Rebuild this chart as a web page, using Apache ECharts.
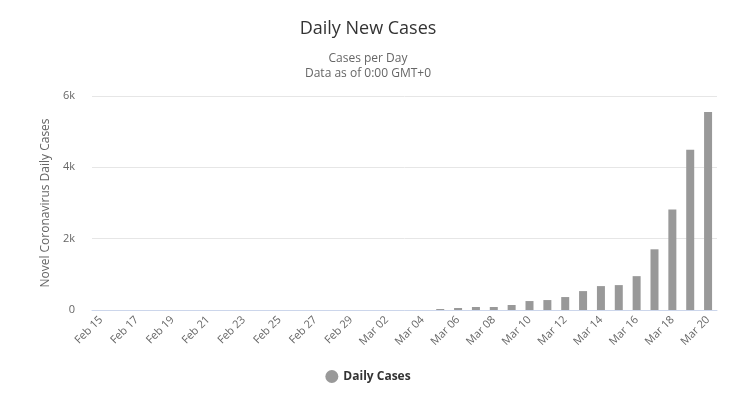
<!DOCTYPE html>
<html>
<head>
<meta charset="utf-8">
<script src="https://cdn.jsdelivr.net/npm/echarts@6/dist/echarts.min.js"></script>
<style>
html,body{margin:0;padding:0;background:#fff;}
#c{width:736px;height:394px;}
</style>
</head>
<body>
<div id="c"></div>
<script>
var categories = ["Feb 15","Feb 16","Feb 17","Feb 18","Feb 19","Feb 20","Feb 21","Feb 22","Feb 23","Feb 24","Feb 25","Feb 26","Feb 27","Feb 28","Feb 29","Mar 01","Mar 02","Mar 03","Mar 04","Mar 05","Mar 06","Mar 07","Mar 08","Mar 09","Mar 10","Mar 11","Mar 12","Mar 13","Mar 14","Mar 15","Mar 16","Mar 17","Mar 18","Mar 19","Mar 20"];
var dailyCases = [0,0,0,0,0,0,0,0,0,0,0,0,0,0,0,0,0,0,0,28,56,84,84,140,251,279,363,530,670,698,949,1702,2818,4492,5552];
var yTicks = ["0","2k","4k","6k"];

var font = "'Open Sans', 'DejaVu Sans', sans-serif";
var chart = echarts.init(document.getElementById('c'), null, {renderer:'canvas'});
chart.setOption({
  animation:false,
  backgroundColor:'#fff',
  title:[
    {text:'Daily New Cases', left:'center', top:15, textStyle:{fontFamily:font, fontSize:18, fontWeight:'normal', color:'#333333'}},
    {text:'Cases per Day\nData as of 0:00 GMT+0', left:'center', top:46, textStyle:{fontFamily:font, fontSize:12, fontWeight:'normal', color:'#666666', lineHeight:15, align:'center'}}
  ],
  legend:{
    bottom:6, left:'center', icon:'circle', itemWidth:13, itemHeight:13, itemGap:8,
    textStyle:{fontFamily:font, fontSize:12, fontWeight:'bold', color:'#333333'},
    data:['Daily Cases']
  },
  grid:{left:92, right:19, top:96, bottom:84, containLabel:false},
  xAxis:{
    type:'category', data:categories,
    axisLine:{lineStyle:{color:'#ccd6eb', width:1}},
    axisTick:{show:false},
    axisLabel:{interval:1, rotate:45, fontFamily:font, fontSize:11, color:'#666666', margin:8}
  },
  yAxis:{
    type:'value', min:0, max:6000, interval:2000,
    name:'Novel Coronavirus Daily Cases', nameLocation:'middle', nameGap:36,
    nameTextStyle:{fontFamily:font, fontSize:12, color:'#666666'},
    axisLine:{show:false}, axisTick:{show:false},
    splitLine:{lineStyle:{color:'#e6e6e6', width:1}},
    axisLabel:{fontFamily:font, fontSize:11, color:'#666666', margin:17,
      formatter:function(v){return yTicks[Math.round(v/2000)];}}
  },
  series:[{
    name:'Daily Cases', type:'bar', data:dailyCases, barWidth:8,
    itemStyle:{color:'#999999'}
  }]
});
</script>
</body>
</html>
